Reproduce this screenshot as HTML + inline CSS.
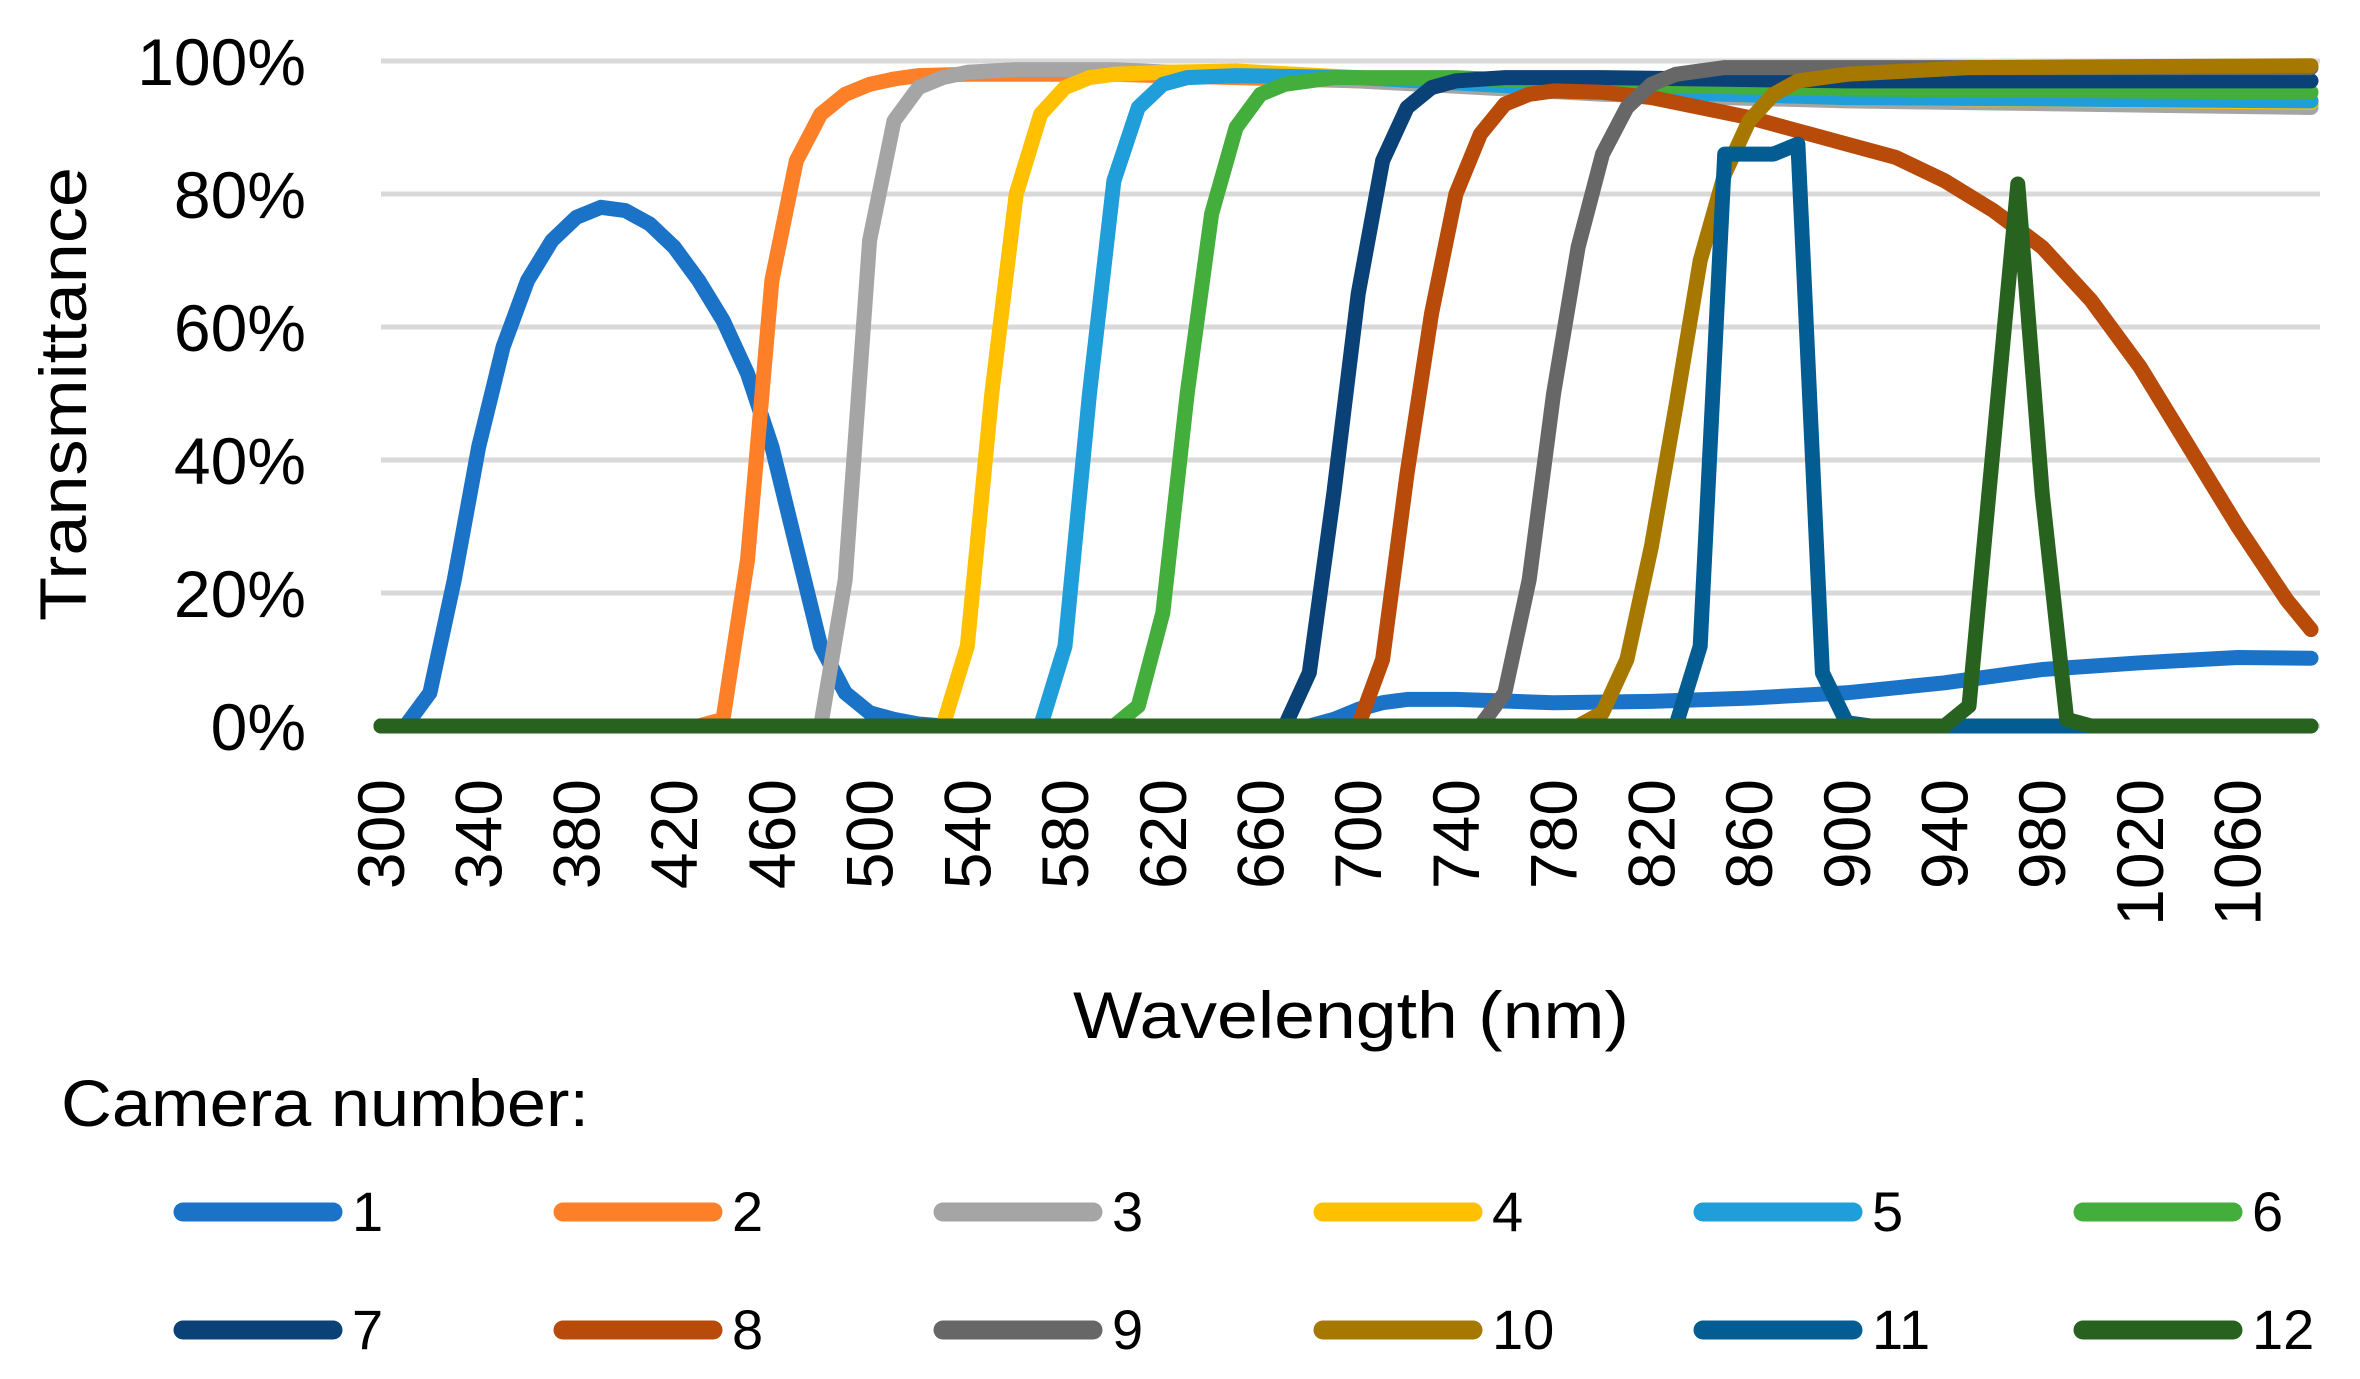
<!DOCTYPE html>
<html><head><meta charset="utf-8"><style>
html,body{margin:0;padding:0;background:#fff;}
svg{display:block;font-family:"Liberation Sans",sans-serif;}
</style></head><body>
<svg id="chart" width="2360" height="1379" viewBox="0 0 2360 1379" xmlns="http://www.w3.org/2000/svg">
<g id="grid"></g>
<g id="yticks"></g>
<g id="xticks"></g>
<g id="series"></g>
<text transform="translate(86,394) rotate(-90)" text-anchor="middle" font-size="66" textLength="454" lengthAdjust="spacingAndGlyphs">Transmittance</text>
<text x="1351" y="1038" text-anchor="middle" font-size="66" textLength="556" lengthAdjust="spacingAndGlyphs">Wavelength (nm)</text>
<text x="61" y="1126" font-size="66" textLength="528" lengthAdjust="spacingAndGlyphs">Camera number:</text>
<g id="legend"></g>
</svg>
<script>
const yTicks=[0,20,40,60,80,100];
const xTickLabels=[300,340,380,420,460,500,540,580,620,660,700,740,780,820,860,900,940,980,1020,1060];
const seriesNames=["1","2","3","4","5","6","7","8","9","10","11","12"];
const colors=["#1B73C8","#FD7F28","#A5A5A5","#FFC000","#1F9ED9","#43AE3C","#0A4177","#B84A0A","#676767","#A67800","#045D92","#27621F"];
const w1=[300,310,320,330,340,350,360,370,380,390,400,410,420,430,440,450,460,470,480,490,500,510,520,530,680,690,700,710,720,740,780,820,860,900,940,980,1020,1060,1090];
const v1=[0,0,5,22,42,57,67,73,76.5,78,77.5,75.5,72,67,61,53,42,27,12,5,2,1,0.3,0,0,1,2.5,3.5,4,4,3.5,3.7,4.2,5,6.5,8.5,9.5,10.3,10.2];
const w2=[300,430,440,450,460,470,480,490,500,510,520,540,600,700,800,900,1000,1090];
const v2=[0,0,1,25,67,85,92,95,96.5,97.3,97.8,98,98,97,95.5,94.5,94,93.5];
const w3=[300,480,490,500,510,520,530,540,560,600,700,800,900,1090];
const v3=[0,0,22,73,91,96,97.5,98.3,98.7,98.7,97,95,94,93];
const w4=[300,530,540,550,560,570,580,590,600,620,650,700,800,900,1090];
const v4=[0,0,12,50,80,92,96,97.5,98,98.3,98.5,97.5,95.5,94.5,93.8];
const w5=[300,570,580,590,600,610,620,630,650,700,800,900,1090];
const v5=[0,0,12,50,82,93,96.5,97.5,97.8,97.5,95.5,94.5,94];
const w6=[300,600,610,620,630,640,650,660,670,690,740,800,900,1090];
const v6=[0,0,3,17,50,77,90,95,96.5,97.5,97.5,96.5,95.8,95.3];
const w7=[300,670,680,690,700,710,720,730,740,760,800,900,1090];
const v7=[0,0,8,35,65,85,93,96,97,97.5,97.5,97,97];
const w8=[300,700,710,720,730,740,750,760,770,780,800,820,840,860,880,900,920,940,960,980,1000,1020,1040,1060,1080,1090];
const v8=[0,0,10,38,62,80,89,93.5,95,95.5,95.3,94.5,93,91.5,89.5,87.5,85.5,82,77.5,72,64,54,42,30,19,14.5];
const w9=[300,750,760,770,780,790,800,810,820,830,850,1090];
const v9=[0,0,5,22,50,72,86,93,96.5,98,99,99];
const w10=[300,790,800,810,820,830,840,850,860,870,880,900,950,1090];
const v10=[0,0,2,10,27,48,70,83,91,95,97,98,99,99.3];
const w11=[300,830,840,850,860,870,880,890,900,910,1090];
const v11=[0,0,12,86,86,86,87.5,8,0.5,0,0];
const w12=[300,940,950,970,980,990,1000,1090];
const v12=[0,0,3,81.5,35,1,0,0];
const allW=[w1,w2,w3,w4,w5,w6,w7,w8,w9,w10,w11,w12];
const allV=[v1,v2,v3,v4,v5,v6,v7,v8,v9,v10,v11,v12];

const NS="http://www.w3.org/2000/svg";
const X0=381,PXNM=2.443,Y0=726,PXP=6.65,XR=2320;
function xs(w){return X0+(w-300)*PXNM;}
function ys(v){return Y0-v*PXP;}
function mk(tag,attrs,parent){const e=document.createElementNS(NS,tag);for(const k in attrs)e.setAttribute(k,attrs[k]);parent.appendChild(e);return e;}
const grid=document.getElementById('grid'),yt=document.getElementById('yticks'),xt=document.getElementById('xticks'),ser=document.getElementById('series'),leg=document.getElementById('legend');
yTicks.forEach(t=>{
  const l=mk('line',{x1:X0,x2:XR,y1:ys(t),y2:ys(t),stroke:'#D9D9D9','stroke-width':5},grid);
  
  
  const tx=mk('text',{x:306,y:ys(t)+24,'text-anchor':'end','font-size':66},yt);
  tx.textContent=t+'%';
  
  
});
xTickLabels.forEach(t=>{
  const x=xs(t);
  const tx=mk('text',{transform:`translate(${x+23},779) rotate(-90)`,'text-anchor':'end','font-size':66},xt);
  tx.textContent=t;
  
  
});
allW.forEach((ws,i)=>{
  const vs=allV[i];
  const pts=ws.map((w,j)=>xs(w).toFixed(1)+','+ys(vs[j]).toFixed(1)).join(' ');
  const p=mk('polyline',{points:pts,fill:'none',stroke:colors[i],'stroke-width':15,'stroke-linejoin':'round','stroke-linecap':'round'},ser);
  
  
  const col=i%6,row=Math.floor(i/6);
  const lx=174+col*380,ly=1212+row*118;
  const g=mk('g',{},leg);
  
  
  mk('line',{x1:lx+9,x2:lx+159,y1:ly,y2:ly,stroke:colors[i],'stroke-width':19,'stroke-linecap':'round'},g);
  const t=mk('text',{x:lx+178,y:ly+19,'font-size':56},g);
  t.textContent=seriesNames[i];
});
</script>
</body></html>
